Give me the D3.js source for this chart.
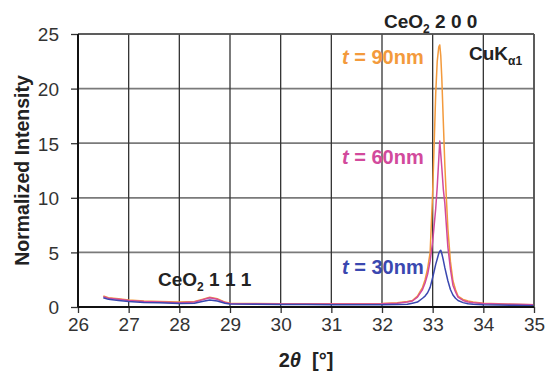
<!DOCTYPE html>
<html><head><meta charset="utf-8">
<script src="https://cdn.jsdelivr.net/npm/d3@7"></script>
<style>
body{margin:0;background:#fff;}
text{font-family:"Liberation Sans",Arial,sans-serif;}
</style></head>
<body><svg id="c" width="545" height="371"></svg>
<script>
const twoTheta = [26.5,26.6,26.8,27.0,27.3,27.6,28.0,28.3,28.45,28.6,28.75,28.9,29.0,29.5,30.0,30.5,31.0,31.5,32.0,32.3,32.5,32.6,32.7,32.8,32.85,32.9,32.95,33.0,33.03,33.06,33.09,33.12,33.14,33.16,33.18,33.21,33.24,33.27,33.3,33.35,33.4,33.45,33.5,33.6,33.7,33.8,34.0,34.3,34.6,35.0];
const t90 = [1.0,0.85,0.75,0.65,0.55,0.5,0.45,0.5,0.7,0.9,0.75,0.45,0.35,0.32,0.3,0.3,0.3,0.3,0.32,0.4,0.5,0.6,1.0,1.8,2.5,3.5,5.0,10.5,15,19.5,22.5,23.8,24.0,23.0,21.0,17.0,13.0,10.0,7.2,4.2,2.4,1.6,1.0,0.7,0.55,0.45,0.35,0.3,0.25,0.2];
const t60 = [0.95,0.8,0.7,0.6,0.5,0.45,0.4,0.45,0.65,0.85,0.7,0.42,0.33,0.3,0.28,0.28,0.28,0.28,0.3,0.35,0.45,0.55,0.9,1.6,2.2,3.0,4.2,6.0,7.5,9.0,11.0,13.5,15.2,14.0,12.8,10.8,9.5,7.5,5.5,3.5,2.0,1.4,0.9,0.6,0.45,0.4,0.32,0.28,0.25,0.2];
const t30 = [0.85,0.7,0.6,0.5,0.42,0.38,0.33,0.35,0.5,0.65,0.55,0.35,0.28,0.25,0.22,0.22,0.2,0.2,0.2,0.22,0.25,0.35,0.45,0.8,1.0,1.3,1.8,2.7,3.3,3.9,4.4,4.9,5.1,5.2,4.9,4.3,3.6,3.0,2.4,1.6,1.1,0.8,0.6,0.4,0.3,0.25,0.2,0.18,0.15,0.12];
const xTicks = [26,27,28,29,30,31,32,33,34,35];
const yTicks = [0,5,10,15,20,25];
const seriesNames = ["t90","t60","t30"];
const seriesColors = ["#f39a3c","#d24a9c","#3a48b0"];

const svg = d3.select("#c");
const m = {l:78, r:534, t:34, b:307};
const x = d3.scaleLinear().domain([26,35]).range([m.l,m.r]);
const y = d3.scaleLinear().domain([0,25]).range([m.b,m.t]);

// grid
svg.append("g").selectAll("line").data(yTicks.slice(1)).join("line")
  .attr("x1",m.l).attr("x2",m.r).attr("y1",d=>y(d)).attr("y2",d=>y(d))
  .attr("stroke","#7a7a7a").attr("stroke-width",1.8);
svg.append("g").selectAll("line").data(xTicks.slice(1)).join("line")
  .attr("x1",d=>x(d)).attr("x2",d=>x(d)).attr("y1",m.t).attr("y2",m.b)
  .attr("stroke","#333").attr("stroke-width",1.3);

// series
const series = [t90,t60,t30];
const line = d3.line().x((d,i)=>x(twoTheta[i])).y(d=>y(d));
series.forEach((s,k)=>{
  svg.append("path").datum(s).attr("d",line).attr("fill","none")
    .attr("stroke",seriesColors[k]).attr("stroke-width",1.5).attr("stroke-linejoin","round");
});

// axes
const xAxis = d3.axisBottom(x).tickValues(xTicks).tickSize(6).tickPadding(5).tickFormat(d3.format("d"));
const yAxis = d3.axisLeft(y).tickValues(yTicks).tickSize(7).tickPadding(12).tickFormat(d3.format("d"));
const gx = svg.append("g").attr("transform",`translate(0,${m.b})`).call(xAxis);
const gy = svg.append("g").attr("transform",`translate(${m.l},0)`).call(yAxis);
[gx,gy].forEach(g=>{
  g.select(".domain").remove();
  g.selectAll(".tick line").attr("stroke","#333").attr("stroke-width",1.3);
  g.selectAll(".tick text").attr("font-size",19).attr("fill","#333")
    .attr("font-family","'Liberation Sans',Arial,sans-serif");
});
gy.selectAll(".tick text").attr("dy","0.36em");
// frame
svg.append("line").attr("x1",m.l).attr("x2",m.r).attr("y1",m.t).attr("y2",m.t).attr("stroke","#555").attr("stroke-width",1.6);
svg.append("line").attr("x1",m.r).attr("x2",m.r).attr("y1",m.t).attr("y2",m.b).attr("stroke","#555").attr("stroke-width",1.6);
svg.append("line").attr("x1",m.l).attr("x2",m.l).attr("y1",m.t).attr("y2",m.b).attr("stroke","#111").attr("stroke-width",2);
svg.append("line").attr("x1",m.l).attr("x2",m.r).attr("y1",m.b).attr("y2",m.b).attr("stroke","#111").attr("stroke-width",2);

// axis titles
svg.append("text").attr("transform",`translate(29,${(m.t+m.b)/2}) rotate(-90)`)
  .attr("text-anchor","middle").attr("font-size",19.5).attr("font-weight","bold").attr("fill","#222")
  .text("Normalized Intensity");
const xt = svg.append("text").attr("x",(m.l+m.r)/2).attr("y",367).attr("text-anchor","middle")
  .attr("font-size",20).attr("font-weight","bold").attr("fill","#222");
xt.append("tspan").text("2");
xt.append("tspan").attr("font-style","italic").text("θ");
xt.append("tspan").text("\u00a0\u00a0[°]");

// annotations
function ceo2(xp, yp, rest){
  const t = svg.append("text").attr("x",xp).attr("y",yp).attr("font-size",19).attr("font-weight","bold").attr("fill","#222");
  t.append("tspan").text("CeO");
  t.append("tspan").attr("font-size",12).attr("dy",5).text("2");
  t.append("tspan").attr("dy",-5).text("\u00a0"+rest);
}
ceo2(384, 28, "2 0 0");
ceo2(158, 286, "1 1 1");
const cu = svg.append("text").attr("x",469).attr("y",60).attr("font-size",19).attr("font-weight","bold").attr("fill","#222");
cu.append("tspan").text("CuK");
cu.append("tspan").attr("font-size",12).attr("dy",5).text("α1");

const labels = [{t:"90nm",y:64},{t:"60nm",y:164},{t:"30nm",y:274}];
labels.forEach((l,k)=>{
  const t = svg.append("text").attr("x",342).attr("y",l.y).attr("font-size",20).attr("font-weight","bold").attr("fill",seriesColors[k]);
  t.append("tspan").attr("font-style","italic").text("t");
  t.append("tspan").text(" = "+l.t);
});
</script></body></html>
